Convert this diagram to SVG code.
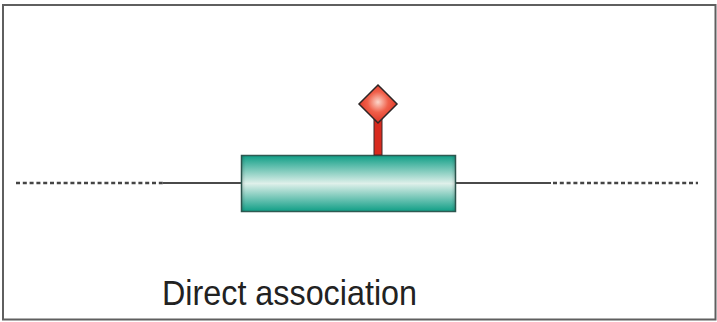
<svg xmlns="http://www.w3.org/2000/svg" width="717" height="322" viewBox="0 0 717 322">
<defs>
<style>
.line{stroke:#4a4a4a;stroke-width:2;fill:none}
.dash{stroke:#444;stroke-width:2.4;stroke-dasharray:4 2.8;fill:none}
.label{font-family:"Liberation Sans",Arial,sans-serif;font-size:32px;fill:#222}
</style>
<linearGradient id="cyl" x1="0" y1="0" x2="0" y2="1">
<stop offset="0" stop-color="#0f9e86"/>
<stop offset="0.5" stop-color="#dff0ea"/>
<stop offset="1" stop-color="#0f9e86"/>
</linearGradient>
<linearGradient id="cylEdge" x1="0" y1="0" x2="1" y2="0">
<stop offset="0" stop-color="#000" stop-opacity="0.15"/>
<stop offset="0.02" stop-color="#000" stop-opacity="0"/>
<stop offset="0.98" stop-color="#000" stop-opacity="0"/>
<stop offset="1" stop-color="#000" stop-opacity="0.15"/>
</linearGradient>
<radialGradient id="dia" cx="0.5" cy="0.45" r="0.6">
<stop offset="0" stop-color="#fcd6ca"/>
<stop offset="0.45" stop-color="#f0604a"/>
<stop offset="1" stop-color="#d92a1c"/>
</radialGradient>
</defs>
<rect x="3" y="5" width="712.5" height="314.5" fill="#fff" stroke="#5f5f5f" stroke-width="2"/>
<g id="connectors">
<line class="dash" x1="16" y1="183" x2="163" y2="183"/>
<line class="line" x1="163" y1="183" x2="242" y2="183"/>
<line class="line" x1="455" y1="183" x2="551" y2="183"/>
<line class="dash" x1="553" y1="183" x2="698" y2="183"/>
</g>
<g id="gene">
<rect x="241.5" y="155.5" width="214" height="56" fill="url(#cyl)" stroke="#2f5a52" stroke-width="1.5"/>
<rect x="241.5" y="155.5" width="214" height="56" fill="url(#cylEdge)"/>
</g>
<g id="marker">
<rect x="374" y="119" width="8" height="36" fill="#d82a1e" stroke="#3a2a2a" stroke-width="1"/>
<polygon points="378,85 397,104 378,123 359,104" fill="url(#dia)" stroke="#2e2626" stroke-width="1.5"/>
</g>
<text class="label" transform="translate(162,305) scale(1,1.1)" x="0" y="0" textLength="255" lengthAdjust="spacingAndGlyphs">Direct association</text>
</svg>
